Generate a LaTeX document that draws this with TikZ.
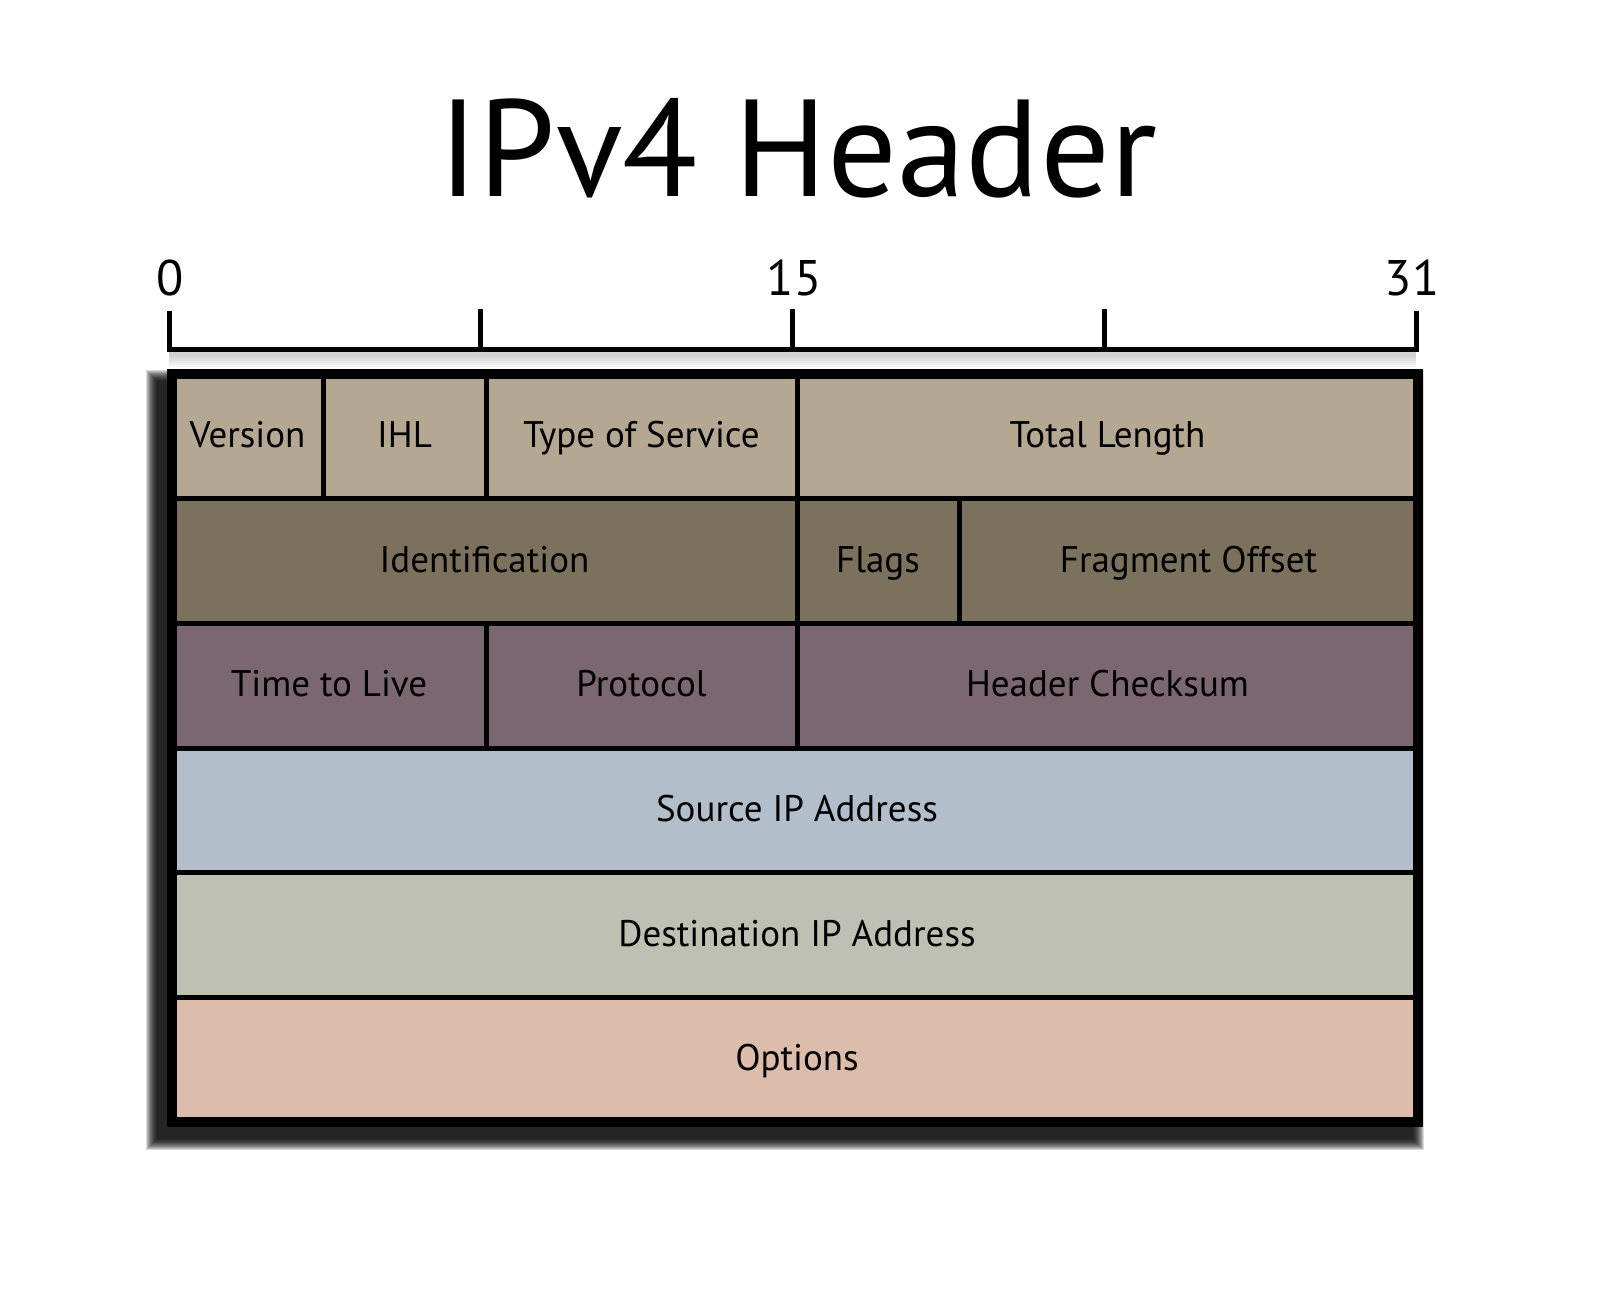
\documentclass[tikz,border=0pt]{standalone}
\usepackage{fontspec}
\setmainfont{PT Sans}
\definecolor{rowtan}{HTML}{B4A892}
\definecolor{rowbrown}{HTML}{7B715D}
\definecolor{rowplum}{HTML}{7B6771}
\definecolor{rowblue}{HTML}{B2BFCA}
\definecolor{rowgrey}{HTML}{BFC0B4}
\definecolor{rowpink}{HTML}{DCBCAA}
\begin{document}
\begin{tikzpicture}[x=0.5pt,y=-0.5pt,
    field/.style={draw=black,line width=2.5pt},
    fieldlabel/.style={anchor=base,font=\fontsize{18.5}{22}\selectfont},
    bitnum/.style={anchor=base,font=\fontsize{25}{30}\selectfont}]
\useasboundingbox (0,0) rectangle (1600,1290);

% title
\node[anchor=base,font=\fontsize{69}{80}\selectfont] (title) at (798,196) {IPv4 Header};

% ruler
\foreach \i in {0,...,5}{
    \fill[black,opacity=0.03] (169,351) rectangle (1416,357+2*\i);
}
\draw[line width=2.5pt] (169,311)--(169,349)--(1416,349)--(1416,311);
\foreach \x in {480.75,792.5,1104.25}{
    \draw[line width=2.5pt] (\x,309)--(\x,349);
}
\node[bitnum] (bit0) at (170,295){0};
\node[bitnum] (bit15) at (794,295){15};
\node[bitnum] (bit31) at (1412,295){31};

% shadow of the table
\foreach \i in {0,...,11}{
    \fill[black,opacity=0.15] (146+\i,370+\i) rectangle (1424-\i,1150-\i);
}

% row 1
\filldraw[field,fill=rowtan] (172,374) rectangle (323,498.7);
\filldraw[field,fill=rowtan] (323,374) rectangle (486,498.7);
\filldraw[field,fill=rowtan] (486,374) rectangle (797,498.7);
\filldraw[field,fill=rowtan] (797,374) rectangle (1418,498.7);
% row 2
\filldraw[field,fill=rowbrown] (172,498.7) rectangle (797,623.3);
\filldraw[field,fill=rowbrown] (797,498.7) rectangle (959,623.3);
\filldraw[field,fill=rowbrown] (959,498.7) rectangle (1418,623.3);
% row 3
\filldraw[field,fill=rowplum] (172,623.3) rectangle (486,748);
\filldraw[field,fill=rowplum] (486,623.3) rectangle (797,748);
\filldraw[field,fill=rowplum] (797,623.3) rectangle (1418,748);
% rows 4 to 6
\filldraw[field,fill=rowblue] (172,748) rectangle (1418,872.7);
\filldraw[field,fill=rowgrey] (172,872.7) rectangle (1418,997.3);
\filldraw[field,fill=rowpink] (172,997.3) rectangle (1418,1122);

\draw[line width=5pt] (172,374) rectangle (1418,1122);

\node[fieldlabel] (version) at (247.5,447.5){Version};
\node[fieldlabel] (ihl) at (404.5,447.5){IHL};
\node[fieldlabel] (tos) at (641.5,447.5){Type of Service};
\node[fieldlabel] (totlen) at (1107.5,447.5){Total Length};
\node[fieldlabel] (ident) at (484.5,572){Identification};
\node[fieldlabel] (flags) at (878,572){Flags};
\node[fieldlabel] (fragoff) at (1188.5,572){Fragment Offset};
\node[fieldlabel] (ttl) at (329,696.7){Time to Live};
\node[fieldlabel] (proto) at (641.5,696.7){Protocol};
\node[fieldlabel] (checksum) at (1107.5,696.7){Header Checksum};
\node[fieldlabel] (srcip) at (797,821.3){Source IP Address};
\node[fieldlabel] (dstip) at (797,946){Destination IP Address};
\node[fieldlabel] (options) at (797,1070.7){Options};
\end{tikzpicture}
\end{document}
